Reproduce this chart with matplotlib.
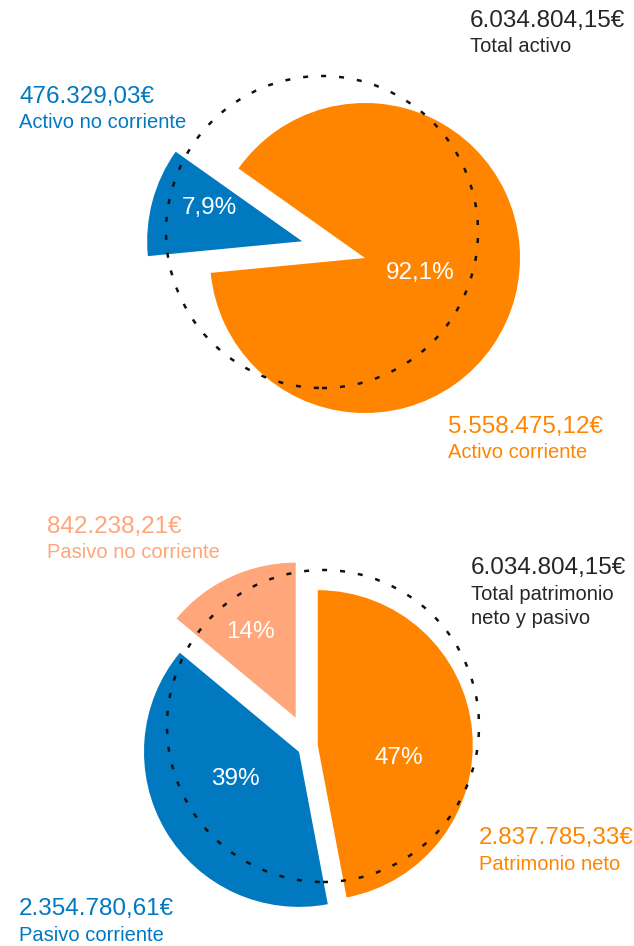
import matplotlib.pyplot as plt
from matplotlib.patches import Circle

# Colores
NARANJA = '#FF8500'
AZUL = '#0079C1'
SALMON = '#FFA67A'
GRIS = '#262626'

# ---- Datos: activo ----
activo_nombres = ['Activo no corriente', 'Activo corriente']
activo_importes = ['476.329,03€', '5.558.475,12€']
activo_pct = ['7,9%', '92,1%']
activo_angulos = [40.8, 319.2]  # tamaño de las porciones tal como se dibujan
total_activo = '6.034.804,15€'

# ---- Datos: patrimonio neto y pasivo ----
pasivo_nombres = ['Patrimonio neto', 'Pasivo corriente', 'Pasivo no corriente']
pasivo_importes = ['2.837.785,33€', '2.354.780,61€', '842.238,21€']
pasivo_valores = [2837785.33, 2354780.61, 842238.21]
pasivo_pct = ['47%', '39%', '14%']
total_pasivo = '6.034.804,15€'

H = 946  # alto en px, para pasar de coordenadas de imagen a coordenadas del eje


def y(v):
    return H - v


fig = plt.figure(figsize=(6.34, 9.46), dpi=100)
ax = fig.add_axes([0, 0, 1, 1])

plt.rcParams['font.family'] = ['Liberation Sans', 'DejaVu Sans']
FS_NUM = 17.5
FS_TXT = 14.5
PUNTEADO = dict(fill=False, color='#111111', lw=1.8, linestyle=(0, (2.0, 5.2)), zorder=5)

# ---- Gráfico superior ----
ax.pie(activo_angulos, colors=[AZUL, NARANJA], startangle=144.7, counterclock=True,
       radius=155, center=(365, y(258)), explode=[65, 0], frame=True,
       wedgeprops=dict(linewidth=0))
ax.add_patch(Circle((322, y(232)), 156, **PUNTEADO))

# ---- Gráfico inferior ----
ax.pie(pasivo_valores, colors=[NARANJA, AZUL, SALMON], startangle=90, counterclock=False,
       radius=155, center=(309, y(746)), explode=[8.8, 11.6, 31.3], frame=True,
       wedgeprops=dict(linewidth=0))
ax.add_patch(Circle((323, y(726)), 156, **PUNTEADO))

ax.set_xlim(0, 634)
ax.set_ylim(0, H)
ax.set_aspect('equal')
ax.axis('off')

# Porcentajes
for txt, (px, py) in zip(activo_pct, [(209, 208), (420, 273)]):
    ax.text(px, y(py), txt, color='white', fontsize=FS_NUM, ha='center', va='center', zorder=6)
for txt, (px, py) in zip(pasivo_pct, [(399, 758), (235, 779), (250, 632)]):
    ax.text(px, y(py), txt, color='white', fontsize=FS_NUM, ha='center', va='center', zorder=6)


def etiqueta(x0, y0, importe, texto, color):
    ax.text(x0, y(y0), importe, color=color, fontsize=FS_NUM, ha='left', va='center')
    for i, linea in enumerate(texto.split('\n')):
        ax.text(x0, y(y0 + 26 + 25 * i), linea, color=color, fontsize=FS_TXT,
                ha='left', va='center')


etiqueta(470, 21, total_activo, 'Total activo', GRIS)
etiqueta(19, 97, activo_importes[0], activo_nombres[0], AZUL)
etiqueta(448, 427, activo_importes[1], activo_nombres[1], NARANJA)

etiqueta(47, 527, pasivo_importes[2], pasivo_nombres[2], SALMON)
etiqueta(471, 568, total_pasivo, 'Total patrimonio\nneto y pasivo', GRIS)
etiqueta(479, 838, pasivo_importes[0], pasivo_nombres[0], NARANJA)
etiqueta(19, 909, pasivo_importes[1], pasivo_nombres[1], AZUL)

fig.savefig('out.png', dpi=100)
